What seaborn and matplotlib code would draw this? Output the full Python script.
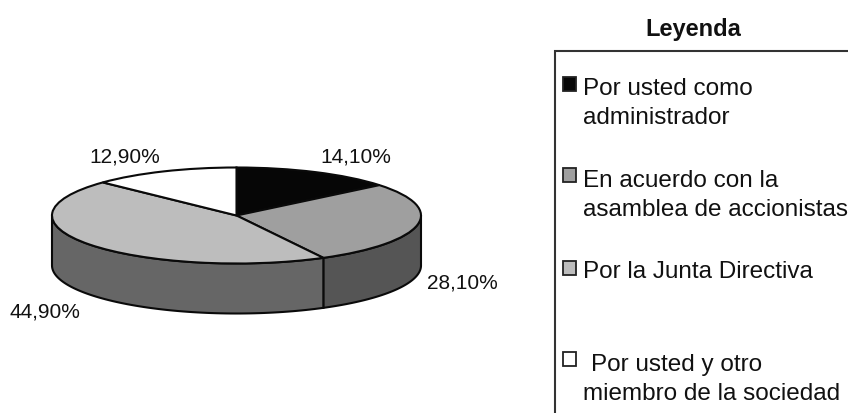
import numpy as np
import matplotlib
matplotlib.use("Agg")
import matplotlib.pyplot as plt
from matplotlib.patches import Rectangle
import seaborn as sns

categories = ["Por usted como\nadministrador",
              "En acuerdo con la\nasamblea de accionistas",
              "Por la Junta Directiva",
              " Por usted y otro\nmiembro de la sociedad"]
shares = [14.1, 28.1, 44.9, 12.9]
top_colors = ["#060606", "#9f9f9f", "#bdbdbd", "#ffffff"]
wall_colors = ["#202020", "#555555", "#666666", "#808080"]
legend_title = "Leyenda"

sns.set_theme(style="white", palette=sns.color_palette(top_colors))
plt.rcParams["font.family"] = ["Liberation Sans", "DejaVu Sans"]

W, H = 848, 414
fig = plt.figure(figsize=(W / 100, H / 100), dpi=100)

# overlay in pixel units for labels and the legend panel
page = fig.add_axes([0, 0, 1, 1], zorder=3)
page.set_xlim(0, W)
page.set_ylim(H, 0)
page.axis("off")

# pie axes: the unit circle is squashed into an ellipse by the axes shape
cx, cy, rx, ry, depth_px = 236.5, 216.5, 184.5, 48, 50
depth = depth_px / ry
ax = fig.add_axes([(cx - rx) / W, 1 - (cy + ry + depth_px) / H,
                   2 * rx / W, (2 * ry + depth_px) / H], zorder=2)
edge = "#0a0a0a"
lw = 1.5
ax.pie(shares, colors=top_colors, startangle=90, counterclock=False, radius=1,
       wedgeprops=dict(edgecolor=edge, linewidth=lw, zorder=3, clip_on=False))
ax.set_aspect("auto")
ax.set_xlim(-1, 1)
ax.set_ylim(-1 - depth, 1)

# extruded wall along the front half of the rim
bounds = np.cumsum([0] + shares) / 100 * 360
for start, stop, color in zip(bounds[:-1], bounds[1:], wall_colors):
    lo, hi = max(start, 90), min(stop, 270)
    if lo >= hi:
        continue
    t = np.radians(np.linspace(lo, hi, 80))
    xs, ys = np.sin(t), np.cos(t)
    ax.fill(np.r_[xs, xs[::-1]], np.r_[ys, ys[::-1] - depth],
            facecolor=color, edgecolor=edge, linewidth=lw, zorder=2, clip_on=False)

# value labels
label_pos = [(320, 163), (427, 289), (10, 318), (89, 163)]
for value, (x, y) in zip(shares, label_pos):
    page.text(x, y, f"{value:.2f}".replace(".", ",") + "%", fontsize=15,
              color="#111111", ha="left", va="baseline")

# legend panel runs off the right and bottom of the canvas
page.add_patch(Rectangle((554.5, 52), 400, 500, facecolor="white",
                         edgecolor="#333333", linewidth=1.5, zorder=0))
page.text(693.5, 36, legend_title, fontsize=17, fontweight="bold",
          color="#111111", ha="center", va="baseline")

swatch_tops = [78, 169, 262, 353]
text_baselines = [95, 187, 278, 371]
for name, color, top, base in zip(categories, top_colors, swatch_tops, text_baselines):
    page.add_patch(Rectangle((562.5, top), 13.5, 13.5, facecolor=color,
                             edgecolor="#222222", linewidth=1.3))
    first, *rest = name.split("\n")
    x0 = 591 if first.startswith(" ") else 583
    page.text(x0, base, first.strip(), fontsize=17.45, color="#111111", va="baseline")
    if rest:
        page.text(583, base + 29, rest[0], fontsize=17.45, color="#111111", va="baseline")

fig.savefig("out.png", dpi=100, facecolor="white")
